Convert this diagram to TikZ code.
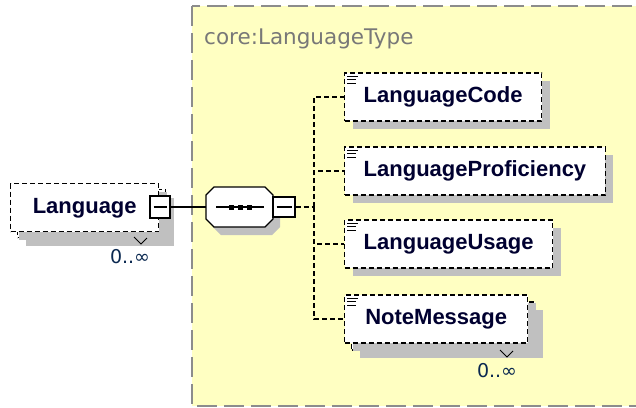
\documentclass[tikz,border=0pt]{standalone}
\usepackage{fontspec}
\setmainfont{Liberation Sans}
\newfontfamily\dejavu{DejaVu Sans}
\usetikzlibrary{calc,shadows}
\definecolor{typeyellow}{RGB}{255,255,194}
\definecolor{typeborder}{RGB}{140,140,140}
\definecolor{shadowgray}{RGB}{192,192,192}
\definecolor{elemtext}{RGB}{0,0,48}
\definecolor{occtext}{RGB}{10,40,80}
\definecolor{titlegray}{RGB}{120,120,120}
\tikzset{
  elemfont/.style={font=\bfseries\fontsize{22}{26}\selectfont, text=elemtext},
  elembox/.style={draw=black, fill=white, line width=1.4pt, dash pattern=on 5pt off 3pt,
    minimum height=48pt, inner xsep=19pt, inner ysep=0pt,
    text height=15.8pt, text depth=4.6pt, elemfont,
    general shadow={fill=shadowgray, shadow xshift=8pt, shadow yshift=-8pt}},
  backbox/.style={draw=black, fill=white, line width=1.4pt, dash pattern=on 5pt off 3pt,
    minimum height=48pt, inner sep=0pt,
    general shadow={fill=shadowgray, shadow xshift=8pt, shadow yshift=-8pt}},
  minusbox/.style={draw=black, fill=white, line width=1.3pt, inner sep=0pt,
    path picture={\draw[line width=1.2pt] ($(path picture bounding box.west)+(3.5pt,0)$) -- ($(path picture bounding box.east)+(-3.5pt,0)$);}},
  conn/.style={draw=black, line width=1.3pt},
  dconn/.style={draw=black, line width=1.4pt, dash pattern=on 5pt off 3pt},
  occ/.style={font=\dejavu\fontsize{19}{22}\selectfont, text=occtext, inner sep=0pt},
  iconline/.style={draw=black, line width=1.1pt},
}
\begin{document}
\begin{tikzpicture}[x=1pt,y=-1pt]
\clip (0,0) rectangle (636,407);
\fill[white] (0,0) rectangle (636,407);
% type box
\draw[fill=typeyellow, draw=typeborder, line width=2pt, dash pattern=on 20pt off 7pt] (192,6) rectangle (660,406);
\node[anchor=base west, inner sep=0pt, text=titlegray, font=\dejavu\fontsize{21.5}{25}\selectfont] (title) at (204,44) {core:LanguageType};

% Language element (multiple)
\node[backbox, minimum width=148pt, anchor=west] (langback) at (17,213.5) {};
\node[elembox, minimum width=148pt, general shadow={fill=none}, anchor=west] (lang) at (10,207.5) {Language};
\draw[line width=0.9pt] (134,237) -- (141,244) -- (147,238);
\node[occ] (langocc) at (130,257) {0..∞};
\node[minusbox, minimum width=20pt, minimum height=22pt] (langm) at (160,207) {};

% sequence compositor
\node[minimum width=67pt, minimum height=40pt, inner sep=0pt] (seq) at (239.5,207) {};
\fill[shadowgray] (221,195) -- (272,195) -- (280,203) -- (280,227) -- (272,235) -- (221,235) -- (213,227) -- (213,203) -- cycle;
\draw[fill=white, line width=1.3pt] (214,187) -- (265,187) -- (273,195) -- (273,219) -- (265,227) -- (214,227) -- (206,219) -- (206,195) -- cycle;
\draw[line width=1.3pt] (216,207) -- (264,207);
\fill[black] (228.5,204.5) rectangle (233.5,209.5);
\fill[black] (237.5,204.5) rectangle (242.5,209.5);
\fill[black] (246.5,204.5) rectangle (251.5,209.5);
\node[minusbox, minimum width=22pt, minimum height=20pt] (seqm) at (284,207) {};
\draw[conn] (langm.east) -- (seq.west);

% child elements
\node[elembox, anchor=west] (code) at (344,97) {LanguageCode};
\node[elembox, anchor=west] (prof) at (344,171) {LanguageProficiency};
\node[elembox, anchor=west] (usage) at (344,244) {LanguageUsage};
\node[backbox, minimum width=183pt, anchor=west] (noteback) at (351,326) {};
\node[elembox, minimum width=183pt, general shadow={fill=none}, anchor=west] (note) at (344,319) {NoteMessage};
\draw[line width=0.9pt] (500,350) -- (507,357) -- (513,351);
\node[occ] (noteocc) at (497,371) {0..∞};

% icons
\foreach \n in {code,prof,usage,note}{
  \draw[iconline] ($(\n.north west)+(3,4)$) -- +(11,0);
  \draw[iconline] ($(\n.north west)+(3,7.5)$) -- +(9,0);
  \draw[iconline] ($(\n.north west)+(3,11)$) -- +(9,0);
}

% connectors
\coordinate (trunk) at (314,207);
\draw[dconn] (seqm.east) -- (trunk);
\draw[dconn] (trunk) |- (code.west);
\draw[dconn] (trunk) |- (prof.west);
\draw[dconn] (trunk) |- (usage.west);
\draw[dconn] (trunk) |- (note.west);
\end{tikzpicture}
\end{document}
